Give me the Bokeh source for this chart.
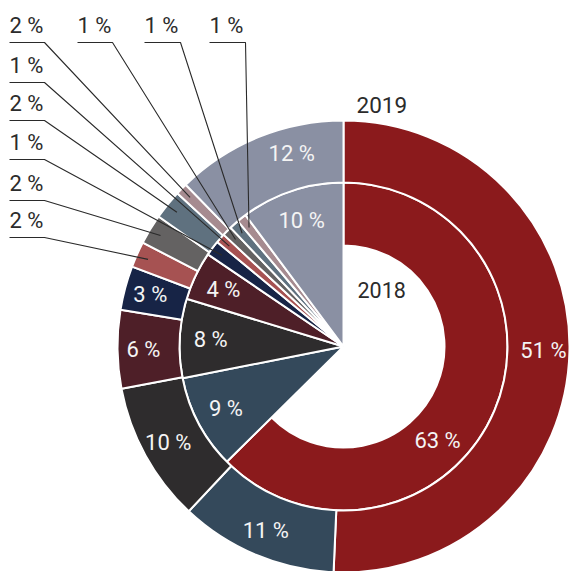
import math
from bokeh.plotting import figure
from bokeh.models import Range1d
from bokeh.core.properties import value
from bokeh.embed import file_html
from bokeh.resources import INLINE

# ---------------- data ----------------
colors = ["#8b1a1c", "#34495b", "#2e2c2d", "#4e1f28", "#172446",
          "#a65252", "#646262", "#5f717f", "#a68b90", "#8a90a3"]
values_2018 = [62.6, 9.3, 7.8, 4.8, 1.5, 0.95, 0.95, 0.95, 0.95, 10.2]
values_2019 = [50.7, 11.3, 10.0, 5.6, 3.15, 1.85, 2.15, 2.1, 0.85, 12.3]
labels_2018 = ["63 %", "9 %", "8 %", "4 %", "1 %", "1 %", "1 %", "1 %", "1 %", "10 %"]
labels_2019 = ["51 %", "11 %", "10 %", "6 %", "3 %", "2 %", "2 %", "2 %", "2 %", "12 %"]
inside_2018 = [0, 1, 2, 3, 9]
inside_2019 = [0, 1, 2, 3, 4, 9]
year_inner = "2018"
year_outer = "2019"

# ---------------- layout (reference pixel coords, y down) ----------------
CX, CY = 343, 346
R_HOLE, R_MID, R_OUT = 101, 164, 226
R_LBL_IN, R_LBL_OUT = 133, 200
R_LEAD_IN, R_LEAD_OUT = 152, 214
label_angle_override = {("2018", 0): 135.0, ("2019", 9): 345.0}
# outside labels: (ring, slice index, underline x0, x1, underline y)
outside = [
    ("2019", 5, 9, 44, 237),
    ("2019", 6, 9, 44, 200),
    ("2018", 4, 9, 44, 159),
    ("2019", 7, 9, 44, 120),
    ("2018", 5, 9, 44, 82),
    ("2019", 8, 9, 44, 42),
    ("2018", 6, 77, 112, 42),
    ("2018", 7, 144, 180, 42),
    ("2018", 8, 209, 245, 42),
]

SIZE = 571
def X(px):
    return px
def Y(py):
    return SIZE - py

FONT = value("Roboto")
FS = "22px"

p = figure(width=SIZE, height=SIZE, output_backend="svg", toolbar_location=None,
           x_range=Range1d(0, SIZE), y_range=Range1d(0, SIZE),
           min_border=0, outline_line_color=None)
p.axis.visible = False
p.grid.visible = False
p.background_fill_color = "white"
p.border_fill_color = "white"

def spans(values):
    out = []
    cum = 0.0
    for v in values:
        out.append((cum * 3.6, (cum + v) * 3.6))
        cum += v
    return out

def pt(theta_deg, r):
    t = math.radians(theta_deg)
    return CX + r * math.sin(t), CY - r * math.cos(t)

sp18 = spans(values_2018)
sp19 = spans(values_2019)

# inner ring (2018)
for i, (a1, a2) in enumerate(sp18):
    s, e = math.radians(90 - a2), math.radians(90 - a1)
    if i == 0:
        p.annular_wedge(x=X(CX), y=Y(CY), inner_radius=R_HOLE, outer_radius=R_MID,
                        start_angle=s, end_angle=e, fill_color=colors[i],
                        line_color="white", line_width=2)
    else:
        p.wedge(x=X(CX), y=Y(CY), radius=R_MID, start_angle=s, end_angle=e,
                fill_color=colors[i], line_color="white", line_width=2)

# outer ring (2019)
for i, (a1, a2) in enumerate(sp19):
    s, e = math.radians(90 - a2), math.radians(90 - a1)
    p.annular_wedge(x=X(CX), y=Y(CY), inner_radius=R_MID, outer_radius=R_OUT,
                    start_angle=s, end_angle=e, fill_color=colors[i],
                    line_color="white", line_width=2)

# inside labels
def inside_labels(ring, sp, labels, idxs, r):
    xs, ys, ts = [], [], []
    for i in idxs:
        a = label_angle_override.get((ring, i), (sp[i][0] + sp[i][1]) / 2)
        x, y = pt(a, r)
        xs.append(X(x)); ys.append(Y(y)); ts.append(labels[i])
    p.text(x=xs, y=ys, text=ts, text_font=FONT, text_font_size=FS,
           text_color="#f4f4f4", text_align="center", text_baseline="middle")

inside_labels("2018", sp18, labels_2018, inside_2018, R_LBL_IN)
inside_labels("2019", sp19, labels_2019, inside_2019, R_LBL_OUT)

# outside labels with leader lines
for ring, i, x0, x1, uy in outside:
    sp = sp18 if ring == "2018" else sp19
    lab = labels_2018 if ring == "2018" else labels_2019
    r = R_LEAD_IN if ring == "2018" else R_LEAD_OUT
    ex, ey = pt((sp[i][0] + sp[i][1]) / 2, r)
    p.line(x=[X(x0), X(x1), X(ex)], y=[Y(uy), Y(uy), Y(ey)],
           line_color="#2a2a2a", line_width=1.1)
    p.text(x=[X(x0)], y=[Y(uy - 17)], text=[lab[i]], text_font=FONT,
           text_font_size=FS, text_color="#2b2b2b", text_align="left",
           text_baseline="middle")

# year titles
p.text(x=[X(356)], y=[Y(104)], text=[year_outer], text_font=FONT,
       text_font_size="22.5px", text_color="#2b2b2b", text_align="left",
       text_baseline="middle")
p.text(x=[X(357)], y=[Y(289)], text=[year_inner], text_font=FONT,
       text_font_size="21.5px", text_color="#2b2b2b", text_align="left",
       text_baseline="middle")

open("out.html", "w").write(file_html(p, INLINE))
